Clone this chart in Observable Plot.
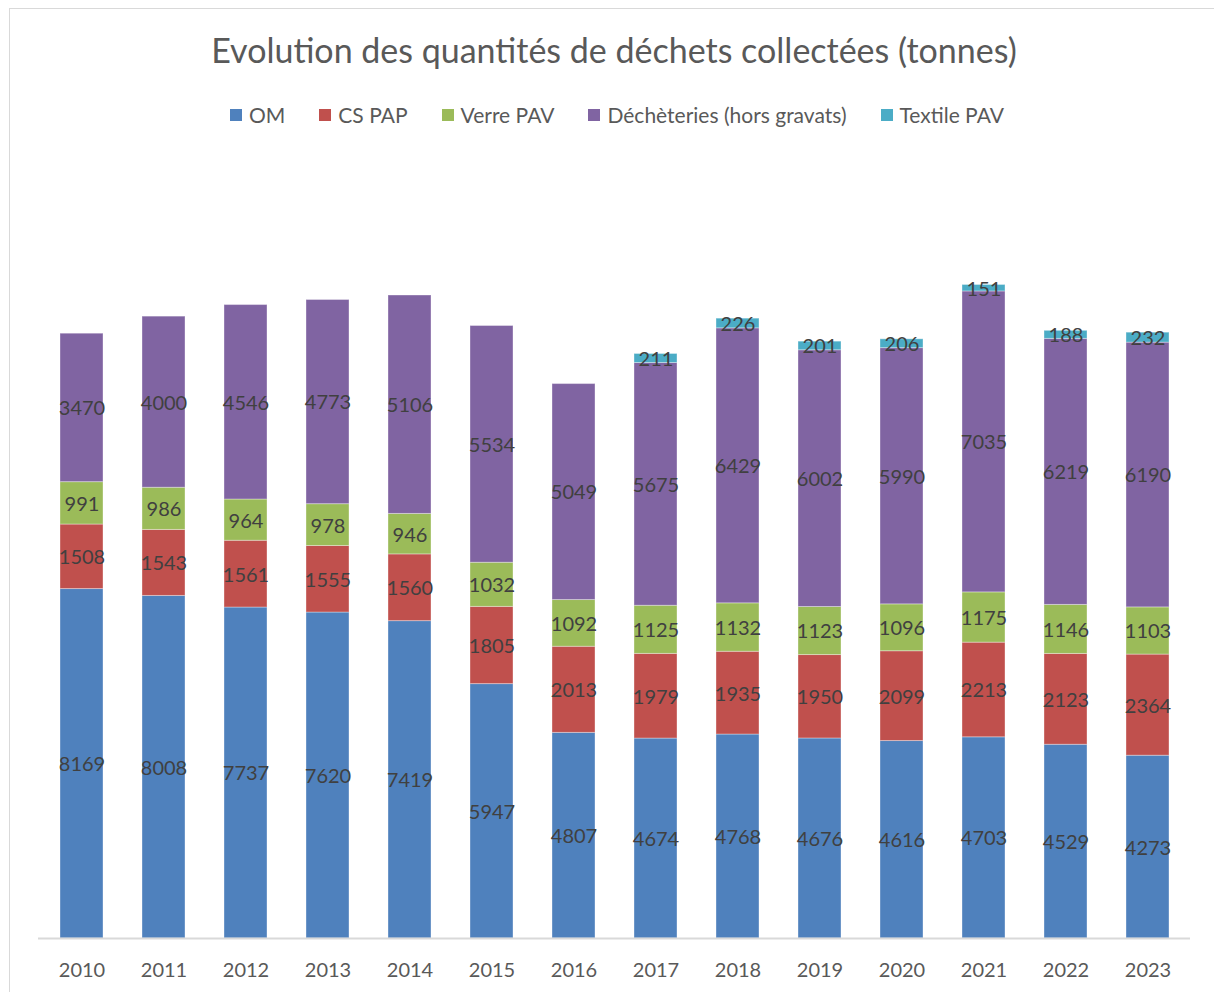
<!DOCTYPE html>
<html>
<head>
<meta charset="utf-8">
<script src="https://cdn.jsdelivr.net/npm/d3@7"></script>
<script src="https://cdn.jsdelivr.net/npm/@observablehq/plot@0.6"></script>
<style>
  html, body { margin: 0; padding: 0; background: #fff; }
  body { width: 1214px; height: 992px; position: relative; overflow: hidden; font-family: Lato, "Open Sans", sans-serif; }
  #frame { position: absolute; left: 9px; top: 8px; width: 1300px; height: 1100px; border-left: 1.5px solid #d9d9d9; border-top: 1.5px solid #d9d9d9; }
  #title { position: absolute; left: 0; top: 29px; width: 1228px; text-align: center; font-size: 34px; color: #595959; }
  #legend { position: absolute; left: 0; top: 102px; width: 1234px; display: flex; justify-content: center; gap: 34px; font-size: 21px; color: #595959; }
  #legend .item { display: flex; align-items: center; gap: 7px; }
  #legend .sw { width: 12px; height: 12px; display: inline-block; }
  #chart { position: absolute; left: 0; top: 150px; }
</style>
</head>
<body>
<div id="frame"></div>
<div id="title">Evolution des quantités de déchets collectées (tonnes)</div>
<div id="legend"></div>
<div id="chart"></div>
<script>
const years = ["2010","2011","2012","2013","2014","2015","2016","2017","2018","2019","2020","2021","2022","2023"];
const seriesNames = ["OM", "CS PAP", "Verre PAV", "Déchèteries (hors gravats)", "Textile PAV"];
const seriesColors = ["#4f81bd", "#c0504d", "#9bbb59", "#8064a2", "#4bacc6"];
const om =         [8169, 8008, 7737, 7620, 7419, 5947, 4807, 4674, 4768, 4676, 4616, 4703, 4529, 4273];
const csPap =      [1508, 1543, 1561, 1555, 1560, 1805, 2013, 1979, 1935, 1950, 2099, 2213, 2123, 2364];
const verrePav =   [991, 986, 964, 978, 946, 1032, 1092, 1125, 1132, 1123, 1096, 1175, 1146, 1103];
const decheteries = [3470, 4000, 4546, 4773, 5106, 5534, 5049, 5675, 6429, 6002, 5990, 7035, 6219, 6190];
const textilePav = [null, null, null, null, null, null, null, 211, 226, 201, 206, 151, 188, 232];

const seriesValues = [om, csPap, verrePav, decheteries, textilePav];
const data = [];
seriesNames.forEach((s, i) => {
  years.forEach((y, j) => {
    const v = seriesValues[i][j];
    if (v != null) data.push({year: y, series: s, value: v});
  });
});

// legend
const legend = document.getElementById("legend");
seriesNames.forEach((s, i) => {
  const it = document.createElement("div");
  it.className = "item";
  const sw = document.createElement("span");
  sw.className = "sw";
  sw.style.background = seriesColors[i];
  const tx = document.createElement("span");
  tx.textContent = s;
  it.appendChild(sw); it.appendChild(tx);
  legend.appendChild(it);
});

const chart = Plot.plot({
  width: 1214,
  height: 842,
  marginLeft: 38,
  marginRight: 24,
  marginTop: 18,
  marginBottom: 54,
  style: {fontFamily: "Lato, 'Open Sans', sans-serif", background: "transparent"},
  x: {domain: years, paddingInner: 0.477, paddingOuter: 0.2385, label: null, tickSize: 0, tickPadding: 24},
  y: {domain: [0, 18000], axis: null},
  color: {domain: seriesNames, range: seriesColors},
  marks: [
    Plot.barY(data, Plot.stackY({x: "year", y: "value", z: "series", fill: "series", order: seriesNames, stroke: "#ffffff", strokeOpacity: 0.35, strokeWidth: 1, inset: 0})),
    Plot.ruleY([0], {stroke: "#d9d9d9", strokeWidth: 2}),
    Plot.text(data, Plot.stackY({x: "year", y: "value", z: "series", order: seriesNames, text: d => String(d.value), fill: "#404040", fontSize: 20, dy: 1}))
  ]
});
const xg = chart.querySelector("g[aria-label='x-axis tick label']");
if (xg) { xg.setAttribute("font-size", "20"); xg.setAttribute("fill", "#595959"); }
document.getElementById("chart").appendChild(chart);
</script>
</body>
</html>
